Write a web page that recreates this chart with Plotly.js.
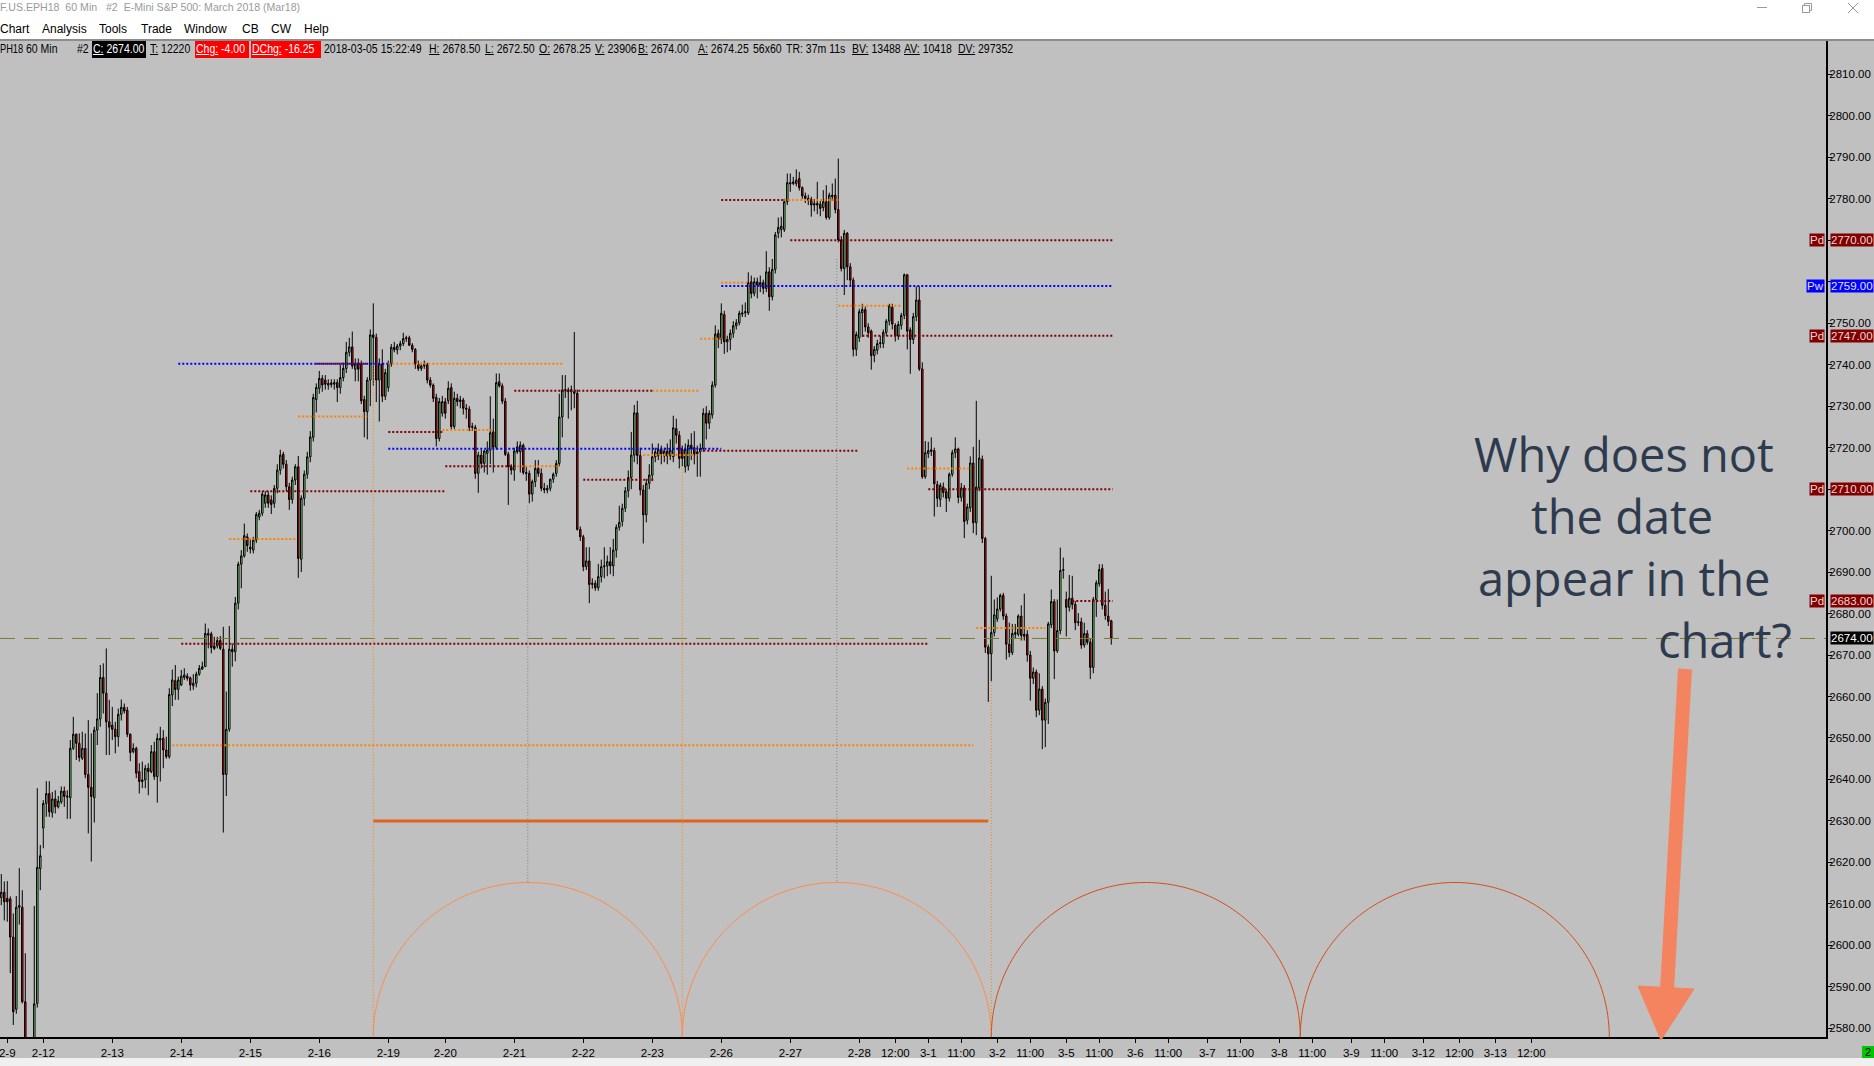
<!DOCTYPE html>
<html><head><meta charset="utf-8">
<script src="https://cdn.plot.ly/plotly-3.0.1.min.js"></script>
<style>
html,body{margin:0;padding:0;width:1874px;height:1066px;overflow:hidden;background:#C0C0C0;}
#chart{position:absolute;left:0;top:0;width:1874px;height:1066px;}
#chrome{position:absolute;left:0;top:0;width:1874px;height:39px;background:#fff;z-index:5;font-family:'Liberation Sans',Arial,sans-serif;}
#chrome .ttl{position:absolute;left:0;top:1px;font-size:10.6px;color:#9a9a9a;white-space:pre;}
#chrome .m{position:absolute;top:22px;font-size:12px;color:#000;white-space:pre;}
#sep{position:absolute;left:0;top:39px;width:1874px;height:2px;background:#8c8c8c;z-index:5;}
#hdr{position:absolute;left:0;top:41px;height:17px;width:1100px;z-index:5;font-family:'Liberation Sans',Arial,sans-serif;font-size:12.5px;color:#000;overflow:hidden;}
#hdr>span{position:absolute;top:0;height:17px;line-height:17px;white-space:nowrap;}
#hdr .t{display:inline-block;transform:scaleX(0.84);transform-origin:0 50%;}
#hdr .t2{display:inline-block;transform:scaleX(0.74);transform-origin:0 50%;}
#hdr .box{padding-left:1px;box-sizing:border-box;}
#bot{position:absolute;left:0;top:1058px;width:1874px;height:8px;background:#F0F0F0;z-index:5;}
#grn{position:absolute;left:1862px;top:1046px;width:12px;height:12px;background:#00C800;z-index:6;font:11px 'Liberation Sans',Arial;line-height:12px;text-align:center;color:#000;}
</style></head>
<body>
<div id="chart"></div>
<div id="chrome">
  <div class="ttl">F.US.EPH18  60 Min   #2  E-Mini S&amp;P 500: March 2018 (Mar18)</div>
  <span class="m" style="left:0px">Chart</span>
  <span class="m" style="left:42px">Analysis</span>
  <span class="m" style="left:99px">Tools</span>
  <span class="m" style="left:141px">Trade</span>
  <span class="m" style="left:184px">Window</span>
  <span class="m" style="left:242px">CB</span>
  <span class="m" style="left:271px">CW</span>
  <span class="m" style="left:304px">Help</span>
  <svg style="position:absolute;left:0;top:0" width="1874" height="20">
    <line x1="1757" y1="7.5" x2="1767" y2="7.5" stroke="#9a9a9a" stroke-width="1"/>
    <rect x="1802.5" y="5.5" width="7" height="7" fill="none" stroke="#9a9a9a"/>
    <polyline points="1804.5,5.5 1804.5,3.5 1811.5,3.5 1811.5,10.5 1809.5,10.5" fill="none" stroke="#9a9a9a"/>
    <line x1="1848" y1="3" x2="1858" y2="13" stroke="#9a9a9a"/>
    <line x1="1858" y1="3" x2="1848" y2="13" stroke="#9a9a9a"/>
  </svg>
</div>
<div id="sep"></div>
<div id="hdr">
  <span style="left:0px"><span class="t2">PH18</span></span>
  <span style="left:26px"><span class="t">60 Min</span></span>
  <span style="left:77px"><span class="t">#2</span></span>
  <span class="box" style="left:92px;width:54px;background:#000;color:#fff"><span class="t"><u>C:</u> 2674.00</span></span>
  <span style="left:150px"><span class="t"><u>T:</u> 12220</span></span>
  <span class="box" style="left:195px;width:54px;background:#FF0000;color:#fff"><span class="t"><u>Chg:</u> -4.00</span></span>
  <span class="box" style="left:251px;width:70px;background:#FF0000;color:#fff"><span class="t"><u>DChg:</u> -16.25</span></span>
  <span style="left:324px"><span class="t">2018-03-05 15:22:49</span></span>
  <span style="left:429px"><span class="t"><u>H:</u> 2678.50</span></span>
  <span style="left:485px"><span class="t"><u>L:</u> 2672.50</span></span>
  <span style="left:539px"><span class="t"><u>O:</u> 2678.25</span></span>
  <span style="left:595px"><span class="t"><u>V:</u> 23906</span></span>
  <span style="left:638px"><span class="t"><u>B:</u> 2674.00</span></span>
  <span style="left:698px"><span class="t"><u>A:</u> 2674.25</span></span>
  <span style="left:753px"><span class="t">56x60</span></span>
  <span style="left:786px"><span class="t">TR: 37m 11s</span></span>
  <span style="left:852px"><span class="t"><u>BV:</u> 13488</span></span>
  <span style="left:904px"><span class="t"><u>AV:</u> 10418</span></span>
  <span style="left:958px"><span class="t"><u>DV:</u> 297352</span></span>
</div>
<div id="bot"></div>
<div id="grn">2</div>
<script>
// ---------- session calendar (hourly bars, 00:00-22:00 per trading day) ----------
const sessionDays   = ['02-09','02-12','02-13','02-14','02-15','02-16','02-19','02-20','02-21','02-22','02-23','02-26','02-27','02-28','03-01','03-02','03-05'];
const sessionLength = [23,23,23,23,23,23,19,23,23,23,23,23,23,23,23,23,23];
const futureDays    = ['03-06','03-07','03-08','03-09','03-12','03-13','03-14','03-15'];
const futureLength  = 24;
const firstBar      = '02-09 09';

// ---------- OHLC (60 min bars) ----------
const O = [
 2611.5,2612.8,2611.3,2611.2,2602.0,2584.6,2609.2,2609.2,2586.4,2568.0,2560.0,2570.0,2586.0,2618.5,
 2628.3,2634.2,2636.6,2632.0,2635.3,2633.4,2634.6,2637.2,2636.0,2635.6,2647.5,2650.9,2648.7,2645.1,2647.5,2641.2,2638.1,2635.6,2651.9,2654.6,2664.6,2660.8,2653.9,
 2653.1,2652.1,2650.3,2655.7,2657.4,2656.7,2650.9,2646.7,2647.5,2641.9,2639.5,2639.9,2642.7,2641.9,2646.7,2640.7,2649.5,2649.9,2647.1,2645.5,2660.4,2663.8,2661.7,
 2662.8,2664.6,2664.9,2664.5,2662.6,2663.2,2665.4,2666.6,2667.2,2674.8,2675.1,2672.2,2672.2,2673.5,2671.4,2641.2,2652.1,2671.4,2670.8,2682.5,2691.9,2693.9,2698.5,
 2696.0,2695.3,2697.7,2703.3,2704.2,2706.6,2708.6,2707.4,2706.6,2710.2,2714.6,2718.4,2716.0,2710.6,2707.5,2712.2,2715.4,2693.1,2707.8,2713.6,2717.8,2722.5,2731.6,
 2734.3,2736.7,2736.3,2735.1,2735.2,2735.3,2735.7,2734.5,2736.9,2739.1,2743.0,2744.3,2738.9,2740.2,2740.2,2731.6,2728.7,2736.3,2747.2,2746.6,2736.3,2740.2,2732.4,
 2734.5,2740.2,2744.2,2743.6,2744.5,2745.1,2746.3,2746.5,2744.7,2743.7,2740.2,2739.1,2739.7,2740.0,2736.3,2735.1,2732.1,2722.2,2728.3,
 2731.1,2731.3,2734.5,2725.1,2731.9,2731.1,2731.5,2729.5,2729.3,2724.9,2724.9,2713.8,2718.2,2716.2,2718.6,2719.4,2723.8,2720.1,2735.9,2734.9,2731.2,2718.4,2715.4,
 2714.6,2720.2,2719.0,2720.6,2714.0,2713.8,2708.8,2711.8,2715.0,2713.8,2710.2,2709.8,2710.2,2712.4,2713.8,2716.2,2727.4,2733.9,2733.5,2734.0,2733.5,2733.1,2700.3,
 2698.5,2691.3,2692.7,2687.0,2687.3,2686.2,2688.9,2691.3,2691.5,2692.5,2691.5,2695.3,2700.8,2702.2,2705.4,2709.6,2712.8,2718.2,2728.4,2718.1,2709.8,2703.8,2711.4,
 2713.4,2717.8,2718.0,2719.6,2718.0,2719.2,2718.0,2717.8,2724.6,2723.0,2719.6,2715.4,2715.6,2720.6,2720.0,2718.5,2719.0,2719.8,2728.3,2725.9,2727.9,2735.1,2747.6,
 2746.1,2752.1,2745.5,2746.1,2747.6,2749.4,2750.1,2752.2,2752.5,2752.5,2760.0,2757.2,2760.0,2759.2,2759.8,2758.4,2762.4,2756.4,2763.0,2771.7,2772.6,2772.6,2779.3,
 2783.6,2783.7,2783.7,2784.9,2782.7,2780.7,2780.1,2779.9,2778.5,2778.5,2778.7,2777.9,2779.3,2775.5,2780.5,2780.9,2777.4,2770.1,2763.2,2771.7,2763.6,2760.4,2743.7,
 2746.5,2752.5,2753.3,2749.1,2748.1,2742.2,2743.5,2745.1,2745.1,2747.8,2750.5,2753.9,2749.5,2746.9,2749.5,2751.9,2761.7,2748.4,2746.1,2751.6,2755.6,2739.0,2713.0,
 2718.6,2719.1,2719.3,2711.1,2707.5,2710.5,2709.4,2707.8,2713.6,2718.8,2719.7,2708.0,2710.3,2702.5,2705.5,2716.3,2701.9,2710.3,2717.2,2698.1,2671.9,2670.3,2675.4,
 2678.7,2681.1,2684.4,2679.4,2672.6,2670.6,2675.0,2675.0,2679.4,2675.0,2675.0,2670.0,2664.4,2665.9,2656.7,2661.8,2654.3,2658.6,2677.3,2682.9,2671.0,2675.9,2690.4,
 2683.4,2681.5,2683.7,2682.2,2677.8,2678.0,2672.4,2675.2,2673.1,2667.0,2683.4,2687.2,2690.9,2682.0,2679.4,2678.25
];
const H = [
 2617.2,2615.4,2615.5,2611.8,2607.7,2611.9,2618.6,2613.3,2598.1,2574.0,2575.0,2609.5,2637.9,2624.2,
 2635.0,2639.6,2639.6,2637.0,2637.4,2636.0,2638.3,2638.3,2637.4,2649.5,2655.1,2651.1,2651.1,2651.5,2651.1,2654.3,2651.1,2652.7,2660.8,2667.6,2668.0,2671.6,2659.2,
 2657.5,2653.9,2657.1,2659.3,2658.3,2657.5,2651.1,2648.7,2647.9,2643.9,2644.3,2643.5,2643.9,2648.3,2649.1,2651.1,2652.7,2651.9,2650.3,2662.0,2666.5,2667.6,2664.8,
 2666.4,2666.8,2665.6,2664.8,2665.4,2666.0,2667.6,2668.4,2677.6,2676.4,2675.6,2674.4,2674.4,2674.6,2676.8,2661.2,2677.0,2672.8,2684.0,2692.5,2695.3,2701.7,2699.3,
 2698.1,2698.5,2704.5,2705.0,2709.5,2709.5,2709.5,2708.5,2711.0,2716.0,2719.5,2719.0,2717.0,2711.5,2713.0,2716.0,2718.0,2708.5,2714.5,2719.0,2724.0,2733.0,2735.5,
 2738.5,2737.5,2737.5,2736.5,2736.5,2736.5,2736.5,2740.0,2740.5,2745.5,2746.5,2748.0,2741.5,2741.5,2741.0,2732.5,2737.0,2748.5,2754.8,2747.5,2741.5,2743.7,2739.0,
 2741.0,2745.0,2745.5,2745.0,2745.8,2747.7,2747.0,2747.0,2745.2,2744.0,2741.0,2740.5,2741.0,2740.5,2737.0,2735.5,2733.0,2732.0,2732.5,
 2732.0,2736.0,2735.5,2733.5,2733.0,2732.5,2732.0,2730.5,2730.0,2726.0,2725.5,2719.0,2719.5,2719.5,2721.5,2732.4,2727.0,2737.9,2737.9,2735.5,2732.0,2719.0,2716.0,
 2720.0,2721.5,2721.5,2721.0,2715.5,2714.5,2712.3,2717.0,2717.0,2715.0,2711.5,2711.0,2712.5,2714.0,2717.0,2733.0,2737.5,2737.5,2734.5,2735.0,2747.9,2734.0,2701.0,
 2699.0,2696.0,2696.0,2688.5,2688.0,2692.0,2693.0,2696.0,2694.0,2696.0,2698.0,2701.5,2706.0,2706.5,2710.5,2714.5,2723.8,2730.3,2731.3,2720.0,2711.0,2712.5,2716.0,
 2721.0,2720.0,2721.0,2720.5,2720.0,2721.0,2722.0,2727.7,2727.0,2724.0,2720.5,2721.0,2722.0,2723.5,2724.0,2720.5,2721.0,2729.5,2730.0,2729.0,2736.0,2749.5,2748.5,
 2754.8,2753.0,2747.0,2748.5,2750.5,2751.0,2753.0,2754.5,2755.0,2762.3,2761.5,2761.0,2761.0,2761.5,2760.5,2767.4,2763.5,2765.5,2772.0,2775.5,2775.7,2780.0,2786.1,
 2786.1,2785.3,2787.1,2786.5,2783.0,2781.5,2781.0,2780.5,2780.0,2784.1,2779.5,2782.1,2783.3,2781.5,2783.7,2784.9,2789.7,2771.0,2772.5,2772.0,2764.5,2761.0,2748.0,
 2753.5,2754.7,2754.0,2750.0,2748.5,2744.5,2746.0,2747.0,2748.5,2751.0,2754.7,2754.7,2750.0,2750.5,2752.5,2762.0,2761.9,2749.0,2752.5,2758.9,2758.9,2740.6,2721.6,
 2721.4,2722.5,2720.0,2712.0,2711.5,2711.6,2710.0,2714.0,2719.5,2722.5,2720.0,2711.5,2711.0,2706.5,2717.9,2720.2,2731.3,2721.9,2718.1,2698.5,2672.5,2689.1,2683.4,
 2683.9,2684.8,2685.0,2680.0,2677.8,2677.5,2677.5,2679.8,2682.0,2684.8,2676.0,2671.0,2667.0,2666.5,2665.6,2662.5,2659.5,2678.0,2685.8,2683.5,2683.4,2695.9,2693.5,
 2685.3,2689.3,2689.1,2683.0,2680.1,2679.0,2677.8,2676.0,2674.0,2684.0,2688.0,2691.9,2691.9,2685.3,2685.9,2678.5
];
const L = [
 2609.7,2606.0,2605.7,2593.3,2580.8,2583.5,2605.0,2586.0,2560.0,2550.0,2548.0,2565.0,2585.0,2613.3,
 2623.4,2631.0,2631.0,2630.8,2631.8,2633.0,2634.1,2633.4,2630.5,2630.5,2647.1,2644.7,2644.3,2644.7,2640.3,2627.0,2620.2,2629.6,2648.3,2652.7,2655.9,2645.9,2645.9,
 2649.5,2646.3,2647.9,2654.2,2655.9,2650.2,2644.4,2646.3,2640.3,2636.6,2637.9,2637.9,2636.2,2641.5,2639.9,2634.4,2639.5,2642.7,2645.0,2645.0,2657.7,2659.2,2659.2,
 2662.5,2664.0,2663.8,2661.4,2661.6,2662.2,2665.0,2666.4,2667.2,2671.6,2670.4,2671.2,2671.6,2671.2,2627.2,2636.0,2651.5,2667.2,2668.5,2681.0,2686.1,2693.5,2694.9,
 2694.5,2694.5,2697.0,2702.5,2703.5,2705.5,2705.5,2704.0,2705.5,2709.0,2713.5,2715.0,2709.5,2705.0,2706.5,2711.0,2688.6,2690.0,2706.0,2712.5,2716.5,2721.5,2728.5,
 2733.0,2733.5,2734.0,2734.0,2734.5,2734.0,2731.0,2733.0,2736.0,2738.0,2742.0,2739.0,2736.0,2736.0,2730.5,2722.5,2722.0,2730.0,2735.0,2731.0,2726.3,2731.0,2731.5,
 2733.5,2739.5,2743.0,2742.5,2743.5,2744.5,2745.5,2744.5,2743.0,2739.0,2738.5,2738.5,2739.0,2735.5,2734.5,2731.0,2720.3,2721.5,2727.5,
 2727.0,2730.5,2724.5,2724.5,2730.0,2729.5,2728.0,2727.0,2724.0,2724.0,2712.5,2709.1,2715.0,2714.0,2713.5,2716.0,2714.0,2719.5,2734.5,2730.5,2718.0,2706.2,2713.5,
 2712.0,2718.5,2714.0,2713.5,2712.0,2706.6,2707.0,2710.5,2713.0,2709.5,2709.0,2709.0,2709.5,2711.5,2713.0,2715.5,2722.5,2732.0,2727.0,2729.0,2729.5,2700.0,2697.5,
 2690.2,2690.5,2682.5,2686.0,2685.5,2685.5,2687.5,2688.5,2689.0,2689.5,2689.0,2693.5,2700.0,2701.0,2704.5,2708.0,2710.0,2716.5,2716.0,2708.5,2696.9,2702.0,2710.0,
 2712.0,2716.5,2717.0,2716.0,2716.5,2716.0,2717.0,2716.5,2721.0,2715.0,2715.5,2714.0,2714.5,2717.0,2716.0,2713.0,2713.0,2719.0,2722.0,2724.5,2727.0,2734.5,2744.0,
 2745.0,2742.6,2743.0,2743.5,2746.5,2748.5,2749.5,2751.5,2751.5,2752.0,2756.0,2756.5,2756.0,2757.5,2757.0,2757.5,2753.0,2755.5,2762.0,2770.5,2770.7,2772.0,2778.5,
 2781.7,2783.3,2783.0,2782.0,2780.0,2779.0,2778.5,2775.7,2777.0,2776.3,2775.8,2777.0,2775.0,2775.0,2779.5,2776.5,2769.5,2762.5,2756.8,2760.4,2759.0,2742.0,2742.1,
 2745.5,2746.7,2748.0,2746.5,2738.8,2740.6,2742.5,2744.0,2744.0,2747.0,2749.5,2748.5,2745.6,2746.0,2748.5,2751.0,2743.7,2737.8,2745.0,2750.5,2738.5,2712.5,2712.5,
 2717.5,2718.0,2703.4,2705.7,2705.7,2708.0,2704.5,2707.0,2713.0,2717.5,2706.6,2707.0,2698.2,2701.5,2704.5,2699.4,2698.9,2709.5,2697.0,2670.5,2658.7,2663.7,2674.5,
 2678.0,2680.5,2678.5,2668.9,2669.5,2670.0,2674.0,2674.5,2673.5,2673.5,2668.4,2659.0,2663.0,2655.0,2655.5,2647.3,2647.8,2653.4,2676.5,2664.2,2670.5,2675.0,2688.4,
 2674.5,2680.5,2681.0,2676.0,2677.0,2671.5,2671.8,2672.5,2664.2,2665.6,2679.2,2686.5,2681.0,2678.5,2677.0,2672.5
];
const C = [
 2612.8,2610.5,2610.5,2602.0,2584.0,2609.2,2609.6,2586.4,2568.0,2560.0,2570.0,2585.9,2618.8,2621.6,
 2634.2,2636.6,2632.2,2635.3,2633.4,2634.8,2637.2,2635.9,2635.8,2647.5,2650.9,2648.7,2645.3,2647.5,2641.2,2638.1,2635.9,2651.9,2654.6,2664.6,2660.8,2653.9,2652.6,
 2652.1,2650.3,2655.7,2657.4,2656.5,2650.9,2646.5,2647.5,2641.5,2639.5,2639.9,2642.7,2641.9,2646.7,2640.7,2649.9,2649.9,2647.1,2645.5,2660.5,2664.0,2661.7,2664.0,
 2664.9,2665.2,2664.4,2662.8,2663.2,2665.4,2666.8,2667.2,2675.2,2675.2,2671.8,2671.6,2673.5,2671.6,2641.2,2652.1,2671.4,2670.8,2682.5,2691.9,2693.9,2698.8,2696.4,
 2695.6,2697.7,2703.9,2704.2,2708.8,2708.6,2706.6,2706.3,2710.2,2714.6,2718.2,2716.0,2710.6,2707.5,2712.2,2715.4,2693.3,2707.8,2713.6,2717.8,2722.6,2732.1,2734.5,
 2736.7,2735.1,2735.3,2735.5,2735.6,2735.7,2734.5,2736.9,2739.1,2743.0,2744.3,2739.7,2740.2,2738.9,2731.3,2728.7,2736.3,2747.2,2746.6,2736.3,2740.2,2732.4,2738.1,
 2740.2,2744.2,2743.6,2744.5,2745.1,2746.3,2746.5,2744.7,2743.7,2740.2,2739.1,2739.7,2740.0,2736.3,2735.1,2731.9,2722.2,2731.1,2731.1,
 2728.3,2734.3,2725.1,2731.9,2731.1,2731.5,2729.5,2729.3,2724.9,2725.1,2713.8,2718.2,2716.2,2719.2,2719.4,2723.6,2720.1,2735.7,2734.9,2731.2,2718.4,2715.4,2714.6,
 2719.2,2719.0,2720.6,2714.0,2713.8,2708.8,2711.8,2715.0,2713.8,2710.2,2709.8,2710.2,2712.4,2713.6,2716.2,2727.4,2733.9,2734.0,2733.9,2733.5,2733.1,2700.3,2698.5,
 2691.3,2692.7,2687.0,2687.3,2686.2,2688.9,2691.3,2691.5,2692.5,2691.5,2695.3,2700.8,2702.0,2705.4,2709.6,2712.8,2718.2,2728.4,2718.1,2709.8,2703.8,2711.4,2713.4,
 2717.8,2719.0,2719.6,2718.5,2719.2,2718.0,2719.4,2724.8,2723.0,2717.4,2717.4,2719.6,2720.6,2719.8,2718.5,2719.0,2719.8,2728.3,2725.9,2728.3,2735.1,2747.4,2746.1,
 2752.4,2745.5,2746.1,2747.6,2749.4,2750.1,2752.4,2752.5,2752.8,2759.8,2757.2,2760.0,2759.2,2759.8,2758.4,2762.4,2756.4,2763.0,2771.3,2773.1,2773.4,2779.3,2783.9,
 2783.9,2784.1,2784.5,2782.7,2780.7,2780.1,2779.7,2778.5,2778.9,2778.9,2777.7,2779.3,2775.5,2780.9,2780.9,2777.4,2770.1,2763.2,2771.7,2763.6,2760.4,2743.7,2747.3,
 2752.8,2753.3,2749.1,2747.7,2742.2,2743.7,2745.1,2745.3,2747.8,2750.5,2754.2,2749.8,2746.9,2749.7,2751.9,2761.7,2748.1,2746.1,2751.6,2755.6,2739.0,2713.0,2718.8,
 2719.3,2719.5,2711.3,2707.8,2710.9,2709.2,2707.8,2713.6,2718.8,2719.7,2708.0,2710.3,2702.2,2705.7,2716.3,2701.9,2710.5,2717.5,2698.1,2671.9,2670.3,2675.4,2679.7,
 2681.1,2684.4,2679.4,2672.6,2670.6,2675.2,2675.4,2679.4,2674.7,2674.5,2670.0,2664.4,2665.9,2656.7,2661.8,2654.3,2658.6,2677.5,2682.9,2671.0,2675.9,2690.4,2690.6,
 2681.5,2683.7,2682.2,2677.8,2678.0,2672.4,2675.2,2673.1,2667.0,2683.4,2687.4,2690.6,2682.0,2679.5,2678.1,2674.0
];

// ---------- x-axis labels ----------
const tickText = ['2-9','2-12','2-13','2-14','2-15','2-16','2-19','2-20','2-21','2-22','2-23','2-26','2-27','2-28','12:00','3-1','11:00','3-2','11:00','3-5','11:00','3-6','11:00','3-7','11:00','3-8','11:00','3-9','11:00','3-12','12:00','3-13','12:00'];
const tickAt   = ['02-09 11','02-12 00','02-13 00','02-14 00','02-15 00','02-16 00','02-19 00','02-20 00','02-21 00','02-22 00','02-23 00','02-26 00','02-27 00','02-28 00','02-28 12','03-01 00','03-01 11','03-02 00','03-02 11','03-05 00','03-05 11','03-06 00','03-06 11','03-07 00','03-07 11','03-08 00','03-08 11','03-09 00','03-09 11','03-12 00','03-12 12','03-13 00','03-13 12'];

// ---------- price-axis ticks ----------
const priceTicks = [2580,2590,2600,2610,2620,2630,2640,2650,2660,2670,2680,2690,2700,2710,2720,2730,2740,2750,2760,2770,2780,2790,2800,2810];

// ---------- horizontal reference levels (price, from bar, to bar, kind) ----------
const lvlPrice = [2740.25,2740.25,2740.25,2727.5,2723.75,2724.25,2719.75,2715.5,2715.5,2709.5,2698.0,2672.75,2648.25,2733.75,2733.75,2719.25,2718.25,2712.25,2746.25,2759.75,2759.0,2779.75,2779.75,2770.0,2754.25,2747.0,2715.0,2710.0,2676.5,2683.0];
const lvlFrom  = [68,114,138,108,138,156,138,157,181,92,85,69,66,180,226,243,223,203,242,249,249,249,270,272,288,296,311,318,334,366];
const lvlTo    = [138,131,196,131,156,173,249,181,195,157,107,318,333,226,242,295,241,227,249,258,379.5,270,288,379.5,309,379.5,332,379.5,357,379.5];
const lvlKind  = ['bl','pd','or','or','pd','or','bl','pd','or','pd','or','pd','or','pd','or','pd','or','pd','or','or','bl','pd','or','pd','or','pd','or','pd','or','pd'];
const rangeLine = {price:2630, from:133, to:338};

// ---------- cycles ----------
const cycleStart  = '02-16 18';
const cycleLength = 103;
const cycleCount  = 4;
const cycleLineTop = [2740, 2715.5, 2663.5];   // orange dotted verticals at cycle starts
const halfLineTop  = [2706, 2765.5];           // gray dotted verticals at cycle midpoints
const arcTop = 2615;

// ---------- right-axis markers ----------
const markTag   = ['Pd','Pw','Pd','Pd','Pd'];
const markPrice = [2770, 2759, 2747, 2710, 2683];

// ---------- note ----------
const noteLines = ['Why does not','the date','appear in the','chart?'];
const noteX     = [1624, 1622, 1624, 1725];
const noteY     = [454, 516, 578, 640];

// ================= build =================
const slots = [];
sessionDays.forEach((d,i)=>{ for(let h=0;h<sessionLength[i];h++) slots.push(d+' '+String(h).padStart(2,'0')); });
futureDays.forEach(d=>{ for(let h=0;h<futureLength;h++) slots.push(d+' '+String(h).padStart(2,'0')); });
const slotOf = t => slots.indexOf(t);
const x0 = slotOf(firstBar);
const X = O.map((_,i)=>x0+i);
const lastClose = C[C.length-1];

const W = 1874, Hh = 1066, mL = 0, mR = 48, mT = 40, mB = 29;
const plotW = W-mL-mR, plotH = Hh-mT-mB;
const xRange = [8.57, 8.57 + plotW/3];
const yRange = [2577.9, 2818.3];
const pxPerX = plotW/(xRange[1]-xRange[0]);
const pxPerY = plotH/(yRange[1]-yRange[0]);

// tick labels fully covered by a marker box are not printed (as on the platform)
const priceText = priceTicks.map(p => markPrice.some(m => Math.abs(m-p) <= 1.5) ? '' : p.toFixed(2));

const kindColor = {pd:'#800000', or:'#FF8000', bl:'#0000FF'};
const shapes = [];
lvlPrice.forEach((p,i)=>{
  shapes.push({type:'line', xref:'x', yref:'y', x0:lvlFrom[i], x1:lvlTo[i], y0:p, y1:p,
    line:{color:kindColor[lvlKind[i]], width:2, dash:'2px,2px'}});
});
shapes.push({type:'line', xref:'x', yref:'y', x0:rangeLine.from, x1:rangeLine.to, y0:rangeLine.price, y1:rangeLine.price,
  line:{color:'#E0641E', width:3}});
shapes.push({type:'line', xref:'paper', yref:'y', x0:0, x1:1, y0:lastClose, y1:lastClose,
  line:{color:'#7A7A30', width:1, dash:'15px,9px'}});

const cs = slotOf(cycleStart);
cycleLineTop.forEach((top,k)=>{
  const xv = cs + k*cycleLength;
  shapes.push({type:'line', xref:'x', yref:'y', x0:xv, x1:xv, y0:top, y1:yRange[0], line:{color:'#FF8000', width:1, dash:'1px,2px'}});
});
halfLineTop.forEach((top,k)=>{
  const xv = cs + k*cycleLength + cycleLength/2;
  shapes.push({type:'line', xref:'x', yref:'y', x0:xv, x1:xv, y0:top, y1:arcTop, line:{color:'#808080', width:1, dash:'1px,2px'}});
});
const arcColors = ['#FF8C4A','#FF8C4A','#D2501A','#D2501A'];
for(let k=0;k<cycleCount;k++){
  const cx = cs + k*cycleLength + cycleLength/2;
  const rx = cycleLength/2;
  const ry = rx*pxPerX/pxPerY;
  let d = '';
  for(let a=0;a<=180;a+=2){
    const t = Math.PI*a/180;
    const xx = cx - rx*Math.cos(t), yy = yRange[0] + ry*Math.sin(t);
    d += (a===0?'M':'L') + xx.toFixed(3) + ',' + yy.toFixed(3);
  }
  shapes.push({type:'path', xref:'x', yref:'y', path:d, line:{color:arcColors[k], width:1}});
}

// arrow (decoration, paper coords)
const pxX = px => px/plotW, pxY = py => (Hh-mB-py)/plotH;
shapes.push({type:'line', xref:'paper', yref:'paper', x0:pxX(1685), y0:pxY(669), x1:pxX(1667), y1:pxY(990), line:{color:'#F4845F', width:14}});
shapes.push({type:'path', xref:'paper', yref:'paper', fillcolor:'#F4845F', line:{color:'#F4845F', width:1},
  path:`M${pxX(1638)},${pxY(986)} L${pxX(1694)},${pxY(989)} L${pxX(1661)},${pxY(1040)} Z`});

const annotations = [];
const lblFont = 'Liberation Sans, Arial, sans-serif';
const lblSize = 11.5;
markPrice.forEach((p,i)=>{
  const bg = markTag[i]==='Pw' ? '#0000FF' : '#800000';
  const fg = markTag[i]==='Pw' ? '#E0E0FF' : '#F2D4D4';
  annotations.push({xref:'paper', yref:'y', x:1, y:p, xanchor:'right', xshift:-1, text:markTag[i], showarrow:false,
    bgcolor:bg, font:{family:lblFont, size:lblSize, color:fg}, borderpad:0});
  annotations.push({xref:'paper', yref:'y', x:1, y:p, xanchor:'left', xshift:4, text:p.toFixed(2), showarrow:false,
    bgcolor:bg, font:{family:lblFont, size:lblSize, color:fg}, borderpad:0});
});
annotations.push({xref:'paper', yref:'y', x:1, y:lastClose, xanchor:'left', xshift:4, text:lastClose.toFixed(2), showarrow:false,
  bgcolor:'#000000', font:{family:lblFont, size:lblSize, color:'#FFFFFF'}, borderpad:0});
noteLines.forEach((t,i)=>{
  annotations.push({xref:'paper', yref:'paper', x:pxX(noteX[i]), y:pxY(noteY[i]), xanchor:'center', yanchor:'middle', showarrow:false,
    text:t, font:{family:'Open Sans, Noto Sans, sans-serif', size:47, color:'#2E3A4E'}});
});

const trace = {
  type:'candlestick', x:X, open:O, high:H, low:L, close:C,
  increasing:{line:{color:'#000000', width:1}, fillcolor:'#80FF80'},
  decreasing:{line:{color:'#000000', width:1}, fillcolor:'#FF0000'},
  whiskerwidth:0, hoverinfo:'skip'
};

const layout = {
  width:W, height:Hh, margin:{l:mL, r:mR, t:mT, b:mB, pad:0},
  paper_bgcolor:'#C0C0C0', plot_bgcolor:'#C0C0C0', showlegend:false,
  xaxis:{range:xRange, tickmode:'array', tickvals:tickAt.map(slotOf), ticktext:tickText,
    ticks:'outside', ticklen:4, tickcolor:'#000', showline:true, linecolor:'#000', linewidth:2,
    showgrid:false, zeroline:false, rangeslider:{visible:false}, fixedrange:true, ticklabeloverflow:'allow',
    tickfont:{family:lblFont, size:lblSize, color:'#000'}},
  yaxis:{range:yRange, side:'right', tickmode:'array', tickvals:priceTicks, ticktext:priceText,
    ticks:'outside', ticklen:4, tickcolor:'#000', showline:true, linecolor:'#000', linewidth:2,
    showgrid:false, zeroline:false, fixedrange:true, ticklabelstandoff:-5, ticklabeloverflow:'allow',
    tickfont:{family:lblFont, size:lblSize, color:'#000'}},
  shapes:shapes, annotations:annotations
};
Plotly.newPlot('chart', [trace], layout, {staticPlot:true, displayModeBar:false});
</script>
</body></html>
